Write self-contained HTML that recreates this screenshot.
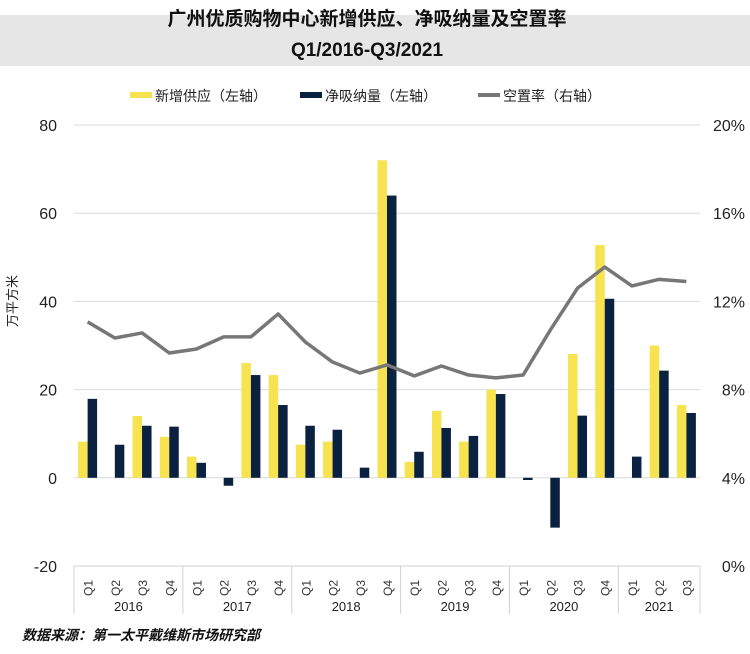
<!DOCTYPE html>
<html><head><meta charset="utf-8"><style>
body{margin:0;width:750px;height:649px;background:#fff;overflow:hidden;font-family:"Liberation Sans","Noto Sans CJK SC",sans-serif}
</style></head><body>
<svg width="750" height="649" xmlns="http://www.w3.org/2000/svg" id="chart" style="font-family:'Liberation Sans','Noto Sans CJK SC',sans-serif">
<rect x="0" y="15" width="750" height="51" fill="#e6e6e6"/>
<text x="367" y="25" text-anchor="middle" font-size="19" font-weight="bold" fill="#111">广州优质购物中心新增供应、净吸纳量及空置率</text>
<text x="367" y="56" text-anchor="middle" font-size="19" font-weight="bold" fill="#111">Q1/2016-Q3/2021</text>
<g>
<rect x="130" y="92" width="22" height="6" fill="#f7e34f"/>
<text x="155" y="101" font-size="14" fill="#222">新增供应（左轴）</text>
<rect x="300" y="92" width="22" height="6" fill="#0a2240"/>
<text x="325" y="101" font-size="14" fill="#222">净吸纳量（左轴）</text>
<rect x="478" y="93" width="22" height="4" fill="#777"/>
<text x="503" y="101" font-size="14" fill="#222">空置率（右轴）</text>
</g>
<text transform="translate(17,301) rotate(-90)" text-anchor="middle" font-size="13" fill="#222">万平方米</text>
<g id="grid"></g><g id="bars"></g><g id="line"></g><g id="xaxis"></g>
<text x="22" y="640" font-size="14" font-weight="bold" font-style="italic" fill="#111">数据来源：第一太平戴维斯市场研究部</text>
</svg>
<script>
const years=["2016","2017","2018","2019","2020","2021"];
const quarters=["Q1","Q2","Q3","Q4","Q1","Q2","Q3","Q4","Q1","Q2","Q3","Q4","Q1","Q2","Q3","Q4","Q1","Q2","Q3","Q4","Q1","Q2","Q3"];
const supply=[8.2,0,14,9.3,4.8,0,26,23.3,7.5,8.2,0,72,3.6,15.2,8.2,20,0,0,28.1,52.8,0,30,16.5];
const absorption=[17.9,7.5,11.8,11.6,3.4,-1.8,23.3,16.5,11.8,10.9,2.3,64,5.9,11.3,9.5,19,-0.5,-11.3,14.1,40.6,4.8,24.3,14.7];
const vacancy=[11.07,10.34,10.57,9.66,9.84,10.39,10.39,11.43,10.16,9.25,8.75,9.12,8.62,9.07,8.66,8.53,8.66,10.7,12.6,13.56,12.7,13.0,12.9];
const leftTicks=[-20,0,20,40,60,80];
const rightTicks=["0%","4%","8%","12%","16%","20%"];
const NS="http://www.w3.org/2000/svg";
const x0=74,x1=700,yTop=125,yBot=566;
const cw=(x1-x0)/quarters.length;
const yL=v=>yBot-(v+20)/100*(yBot-yTop);
const yR=p=>yBot-p/20*(yBot-yTop);
const xc=i=>x0+cw*(i+0.5);
function mk(tag,attrs,parent){const e=document.createElementNS(NS,tag);for(const k in attrs)e.setAttribute(k,attrs[k]);document.getElementById(parent).appendChild(e);return e;}
leftTicks.forEach((t,i)=>{
  const y=yL(t);
  const g=mk('line',{x1:x0,x2:x1,y1:y,y2:y,stroke:'#d9d9d9','stroke-width':1},'grid');
  
  
  const lt=mk('text',{x:57,y:y+6,'text-anchor':'end','font-size':16,fill:'#222'},'grid');
  lt.textContent=t;
  
  
  const rt=mk('text',{x:745,y:y+6,'text-anchor':'end','font-size':16,fill:'#222'},'grid');
  rt.textContent=rightTicks[i];
  
  
});
const bw=9.5;
quarters.forEach((q,i)=>{
  const c=xc(i);
  if(supply[i]!==0){
    const y=yL(supply[i]),y0=yL(0);
    const b=mk('rect',{x:c-bw,y:Math.min(y,y0),width:bw,height:Math.abs(y0-y),fill:'#f7e34f'},'bars');
    
    
  }
  const y=yL(absorption[i]),y0=yL(0);
  const b2=mk('rect',{x:c,y:Math.min(y,y0),width:bw,height:Math.max(1,Math.abs(y0-y)),fill:'#0a2240'},'bars');
  
  
  const t=mk('text',{transform:`translate(${c+5},596) rotate(-90)`,'font-size':12,fill:'#333'},'xaxis');
  t.textContent=q;
  
  
});
const pts=vacancy.map((v,i)=>xc(i)+','+yR(v)).join(' ');
const pl=mk('polyline',{points:pts,fill:'none',stroke:'#777','stroke-width':3.5,'stroke-linejoin':'round'},'line');


mk('line',{x1:x0,x2:x1,y1:566,y2:566,stroke:'#d0d0d0','stroke-width':1},'xaxis');
const sizes=[4,4,4,4,4,3];
let start=0;
years.forEach((yr,j)=>{
  const xs=x0+start*cw,xe=x0+(start+sizes[j])*cw;
  const d=mk('line',{x1:xs,x2:xs,y1:566,y2:614,stroke:'#d0d0d0','stroke-width':1},'xaxis');
  
  
  const t=mk('text',{x:(xs+xe)/2,y:611,'text-anchor':'middle','font-size':13,fill:'#222'},'xaxis');
  t.textContent=yr;
  
  
  start+=sizes[j];
});
mk('line',{x1:x1,x2:x1,y1:566,y2:614,stroke:'#d0d0d0','stroke-width':1},'xaxis');
</script>
</body></html>
